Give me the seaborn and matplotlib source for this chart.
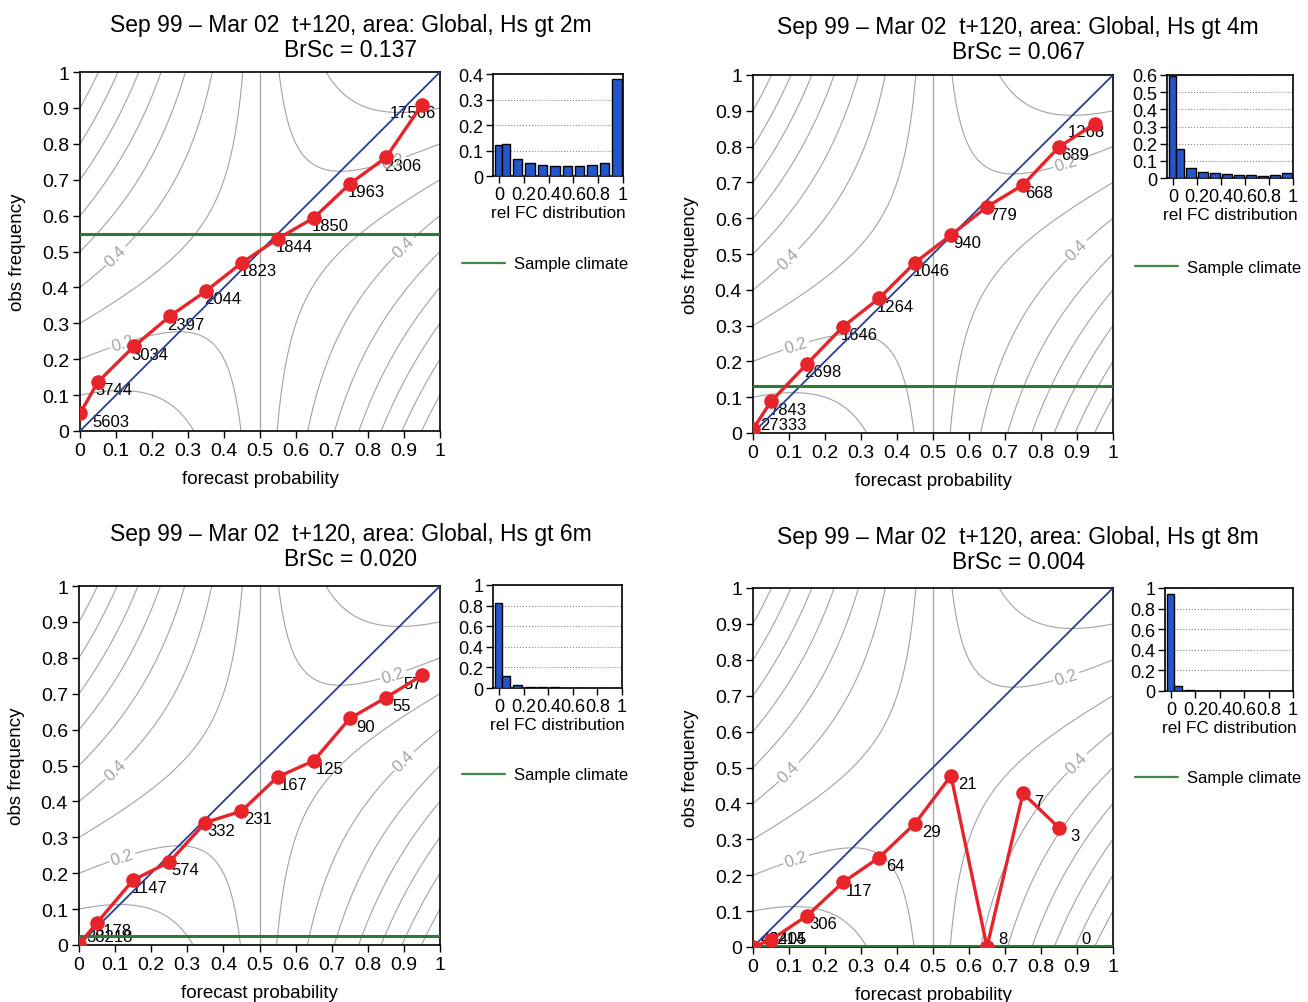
import numpy as np
import pandas as pd
import matplotlib
matplotlib.use('Agg')
import matplotlib.pyplot as plt
from matplotlib.ticker import FuncFormatter
import seaborn as sns

sns.set_style('ticks')
plt.rcParams['font.family'] = ['Liberation Sans', 'DejaVu Sans']
plt.rcParams['text.color'] = 'black'
plt.rcParams['axes.labelcolor'] = 'black'
plt.rcParams['xtick.color'] = 'black'
plt.rcParams['ytick.color'] = 'black'

# ---------------- data ----------------
PROB_BINS = [0.0, 0.05, 0.15, 0.25, 0.35, 0.45, 0.55, 0.65, 0.75, 0.85, 0.95]

THRESHOLDS = ['2m', '4m', '6m', '8m']
BRIER_SCORES = ['0.137', '0.067', '0.020', '0.004']
SAMPLE_CLIMATE = [0.549, 0.131, 0.025, 0.003]

OBS_FREQ_2M = [0.049, 0.137, 0.236, 0.320, 0.390, 0.469, 0.536, 0.594, 0.689, 0.762, 0.909]
COUNTS_2M = [5603, 5744, 3034, 2397, 2044, 1823, 1844, 1850, 1963, 2306, 17566]
REL_FC_2M = [0.121, 0.124, 0.066, 0.052, 0.044, 0.039, 0.040, 0.040, 0.043, 0.050, 0.380]

OBS_FREQ_4M = [0.011, 0.088, 0.193, 0.297, 0.376, 0.476, 0.553, 0.632, 0.693, 0.799, 0.864]
COUNTS_4M = [27333, 7843, 2698, 1646, 1264, 1046, 940, 779, 668, 689, 1268]
REL_FC_4M = [0.592, 0.170, 0.058, 0.036, 0.027, 0.023, 0.020, 0.017, 0.014, 0.015, 0.027]

OBS_FREQ_6M = [0.002, 0.062, 0.181, 0.231, 0.341, 0.373, 0.468, 0.513, 0.631, 0.689, 0.751]
COUNTS_6M = [38218, 5178, 1147, 574, 332, 231, 167, 125, 90, 55, 57]
REL_FC_6M = [0.828, 0.112, 0.025, 0.012, 0.007, 0.005, 0.004, 0.003, 0.002, 0.001, 0.001]

OBS_FREQ_8M = [0.0, 0.02, 0.087, 0.180, 0.249, 0.344, 0.477, 0.0, 0.428, 0.332, np.nan]
COUNTS_8M = [42405, 3214, 306, 117, 64, 29, 21, 8, 7, 3, 0]
REL_FC_8M = [0.940, 0.046, 0.007, 0.0025, 0.0014, 0.0006, 0.0005, 0.0002, 0.0002, 0.0001, 0.0]

OBS_FREQ = [OBS_FREQ_2M, OBS_FREQ_4M, OBS_FREQ_6M, OBS_FREQ_8M]
COUNTS = [COUNTS_2M, COUNTS_4M, COUNTS_6M, COUNTS_8M]
REL_FC = [REL_FC_2M, REL_FC_4M, REL_FC_6M, REL_FC_8M]
HIST_YMAX = [0.4, 0.6, 1.0, 1.0]
HIST_YSTEP = [0.1, 0.1, 0.2, 0.2]

# skill isopleth levels of the background field
CONTOUR_LEVELS = [-0.65, -0.55, -0.45, -0.35, -0.25, -0.15, -0.05, 0.05, 0.15]
CONTOUR_LABELS = {lv: '' for lv in CONTOUR_LEVELS}
CONTOUR_LABELS[-0.15] = '0.4'
CONTOUR_LABELS[0.05] = '0.2'
CONTOUR_LABEL_POS = [(0.10, 0.4875), (0.90, 0.5125), (0.12, 0.244), (0.87, 0.7526)]

# ---------------- layout (figure pixels) ----------------
W, H = 1308, 1003
MAIN_PX = [(80, 73, 440, 432), (753, 76, 1113, 434), (79, 587, 440, 946), (753, 589, 1113, 948)]
HIST_PX = [(493, 75, 623, 177), (1167, 76, 1293, 179), (493, 586, 622, 689), (1165, 589, 1293, 692)]
TITLE_PX = [(351, 38), (1018, 40), (351, 547), (1018, 550)]
LEGEND_PX = [(462, 265), (1135, 268), (462, 776), (1135, 779)]


def rect(px):
    x0, y0, x1, y1 = px
    return [x0 / W, 1 - y1 / H, (x1 - x0) / W, (y1 - y0) / H]


RED = '#e8242b'
BLUE_LINE = '#2b3d8f'
GREEN = '#2f7a34'
GREY = '#a3a3a3'
BAR_BLUE = '#2356cc'

fmt_g = FuncFormatter(lambda v, pos: '%g' % round(v, 3))

fig = plt.figure(figsize=(W / 100, H / 100), dpi=100)

grid = np.linspace(0, 1, 301)
PP, OO = np.meshgrid(grid, grid)
ZZ = (2 * OO - 0.5 - PP) * (PP - 0.5)

for i in range(4):
    ax = fig.add_axes(rect(MAIN_PX[i]))
    cs = ax.contour(PP, OO, ZZ, levels=CONTOUR_LEVELS, colors=GREY, linewidths=0.8,
                    linestyles='solid', zorder=1)
    ax.clabel(cs, inline=True, fmt=CONTOUR_LABELS, fontsize=12, colors=GREY,
              manual=CONTOUR_LABEL_POS, inline_spacing=2)
    ax.axvline(0.5, color=GREY, lw=0.9, zorder=1)
    ax.axline((0, 0), slope=1, color=BLUE_LINE, lw=1.3, zorder=3)
    ax.axhline(SAMPLE_CLIMATE[i], color=GREEN, lw=2.2, zorder=3, label='Sample climate')

    df = pd.DataFrame({'p': PROB_BINS, 'o': OBS_FREQ[i]})
    sns.lineplot(data=df, x='p', y='o', ax=ax, color=RED, lw=2.4, marker='o',
                 markersize=10.5, markeredgecolor=RED, markeredgewidth=0, zorder=4)

    for p, o, n in zip(PROB_BINS, OBS_FREQ[i], COUNTS[i]):
        oo = 0.0 if not np.isfinite(o) else o
        tx = min(max(p + 0.045, 0.085), 0.925)
        ty = max(oo - 0.022, 0.025)
        ax.text(tx, ty, str(n), ha='center', va='center', fontsize=12, color='black', zorder=2.5)

    ax.set_xlim(0, 1)
    ax.set_ylim(0, 1)
    ticks = np.round(np.arange(0, 1.01, 0.1), 1)
    ax.set_xticks(ticks)
    ax.set_yticks(ticks)
    ax.xaxis.set_major_formatter(fmt_g)
    ax.yaxis.set_major_formatter(fmt_g)
    ax.tick_params(direction='out', length=5, width=1, labelsize=14, colors='black', pad=3)
    for s in ax.spines.values():
        s.set_visible(True)
        s.set_linewidth(1.2)
        s.set_color('black')
    ax.set_xlabel('forecast probability', fontsize=13.5)
    ax.set_ylabel('obs frequency', fontsize=13.5)
    ax.xaxis.set_label_coords(0.5, -0.108)
    ax.yaxis.set_label_coords(-0.15, 0.5)

    lx, ly = LEGEND_PX[i]
    leg = ax.legend(loc='center left', bbox_to_anchor=(lx / W, 1 - ly / H),
                    bbox_transform=fig.transFigure, frameon=False, fontsize=12,
                    handlelength=2.6, handletextpad=0.5, borderpad=0, borderaxespad=0)
    for hl in leg.get_lines():
        hl.set_linewidth(1.6)
        hl.set_color('#3f8a45')

    tx, ty = TITLE_PX[i]
    fig.text(tx / W, 1 - ty / H,
             'Sep 99 \u2013 Mar 02  t+120, area: Global, Hs gt %s\nBrSc = %s' % (THRESHOLDS[i], BRIER_SCORES[i]),
             ha='center', va='center', fontsize=16.5, linespacing=1.15, color='black')

    # histogram inset
    axh = fig.add_axes(rect(HIST_PX[i]))
    hdf = pd.DataFrame({'p': PROB_BINS, 'f': REL_FC[i]})
    sns.barplot(data=hdf, x='p', y='f', native_scale=True, color=BAR_BLUE, saturation=1,
                edgecolor='black', linewidth=1.0, ax=axh, zorder=3)
    widths = [0.055] + [0.068] + [0.076] * (len(PROB_BINS) - 2)
    centers = [-0.005, 0.055] + PROB_BINS[2:]
    for patch, w, c in zip(axh.patches, widths, centers):
        patch.set_width(w)
        patch.set_x(c - w / 2)
    axh.set_xlim(-0.05, 1.0)
    axh.set_ylim(0, HIST_YMAX[i])
    axh.set_xticks([0, 0.2, 0.4, 0.6, 0.8, 1.0])
    axh.set_yticks(np.round(np.arange(0, HIST_YMAX[i] + 1e-9, HIST_YSTEP[i]), 1))
    axh.xaxis.set_major_formatter(fmt_g)
    axh.yaxis.set_major_formatter(fmt_g)
    axh.tick_params(direction='out', length=5, width=1, labelsize=13, colors='black', pad=2)
    axh.yaxis.grid(True, linestyle=':', color='#888888', lw=0.8)
    axh.set_axisbelow(True)
    for s in axh.spines.values():
        s.set_visible(True)
        s.set_linewidth(1.2)
        s.set_color('black')
    axh.set_xlabel('rel FC distribution', fontsize=12.3, labelpad=2)
    axh.set_ylabel('')

fig.savefig('out.png', dpi=100)
